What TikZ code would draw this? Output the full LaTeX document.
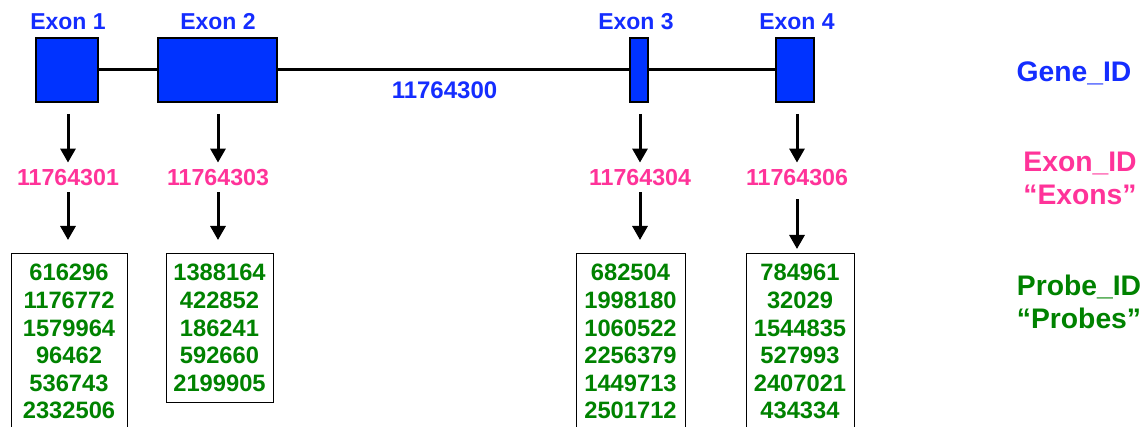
\documentclass[tikz,border=0pt]{standalone}
\usepackage{fontspec}
\setmainfont{Liberation Sans}
\usetikzlibrary{arrows.meta}
\definecolor{geneblue}{RGB}{20,45,255}
\definecolor{boxblue}{RGB}{0,51,255}
\definecolor{exonpink}{RGB}{255,51,153}
\definecolor{probegreen}{RGB}{0,130,0}
\begin{document}
\begin{tikzpicture}[x=1pt,y=-1pt,
  exonbox/.style={draw=black, fill=boxblue, line width=2pt, rectangle, minimum height=64pt, inner sep=0pt},
  exlabel/.style={text=geneblue, font=\fontsize{23}{27}\selectfont\bfseries, inner sep=0pt},
  geneid/.style={text=geneblue, font=\fontsize{24}{28}\selectfont\bfseries, inner sep=0pt},
  exonid/.style={text=exonpink, font=\fontsize{23.2}{27}\selectfont\bfseries, inner sep=0pt},
  probebox/.style={draw=black, line width=1pt, rectangle, anchor=north, align=center, inner sep=0pt,
    text=probegreen, font=\fontsize{23.7}{27.6}\selectfont\bfseries},
  sidelabel/.style={font=\fontsize{28.3}{33}\selectfont\bfseries, align=center, inner sep=0pt},
  arr/.style={draw=black, line width=3pt, -{Triangle[width=15pt,length=14pt]}},
  geneline/.style={draw=black, line width=3pt}]
\useasboundingbox (0,0) rectangle (1146,427);
\clip (0,0) rectangle (1146,427);

% exon boxes on the gene line
\node[exonbox, minimum width=62pt]  (e1) at (67,70) {};
\node[exonbox, minimum width=119pt] (e2) at (217.5,70) {};
\node[exonbox, minimum width=18pt]  (e3) at (639,70) {};
\node[exonbox, minimum width=38pt]  (e4) at (795,70) {};
\draw[geneline] (e1.east) -- (e2.west) (e2.east) -- (e3.west) (e3.east) -- (e4.west);

% exon names
\node[exlabel] (l1) at (68,22)  {Exon 1};
\node[exlabel] (l2) at (218,22) {Exon 2};
\node[exlabel] (l3) at (636,22) {Exon 3};
\node[exlabel] (l4) at (797,22) {Exon 4};

% gene identifier
\node[geneid] (g) at (444.5,90) {11764300};

% exon identifiers
\node[exonid] (p1) at (68,178)  {11764301};
\node[exonid] (p2) at (218,178) {11764303};
\node[exonid] (p3) at (640,178) {11764304};
\node[exonid] (p4) at (797,178) {11764306};

% probe lists
\node[probebox, minimum width=116pt, minimum height=176.6pt] (b1) at (69,253)
  {616296\\1176772\\1579964\\96462\\536743\\2332506};
\node[probebox, minimum width=107pt, minimum height=149pt] (b2) at (219.5,253)
  {1388164\\422852\\186241\\592660\\2199905};
\node[probebox, minimum width=109pt, minimum height=176.6pt] (b3) at (630.5,253)
  {682504\\1998180\\1060522\\2256379\\1449713\\2501712};
\node[probebox, minimum width=108pt, minimum height=176.6pt] (b4) at (800,253)
  {784961\\32029\\1544835\\527993\\2407021\\434334};

% exon -> exon id
\draw[arr, shorten <=11pt, shorten >=7pt] (e1.south -| p1) -- (p1.north);
\draw[arr, shorten <=11pt, shorten >=7pt] (e2.south -| p2) -- (p2.north);
\draw[arr, shorten <=11pt, shorten >=7pt] (e3.south -| p3) -- (p3.north);
\draw[arr, shorten <=11pt, shorten >=7pt] (e4.south -| p4) -- (p4.north);

% exon id -> probes
\draw[arr, shorten <=6pt, shorten >=13pt] (p1.south) -- (p1.south |- b1.north);
\draw[arr, shorten <=6pt, shorten >=13pt] (p2.south) -- (p2.south |- b2.north);
\draw[arr, shorten <=6pt, shorten >=13pt] (p3.south) -- (p3.south |- b3.north);
\draw[arr, shorten <=13pt, shorten >=4pt] (p4.south) -- (p4.south |- b4.north);

% level legend
\node[sidelabel, text=geneblue]   (s1) at (1074,73)  {Gene\_ID};
\node[sidelabel, text=exonpink]   (s2) at (1080,178) {Exon\_ID\\“Exons”};
\node[sidelabel, text=probegreen] (s3) at (1079,302) {Probe\_ID\\“Probes”};
\end{tikzpicture}
\end{document}
